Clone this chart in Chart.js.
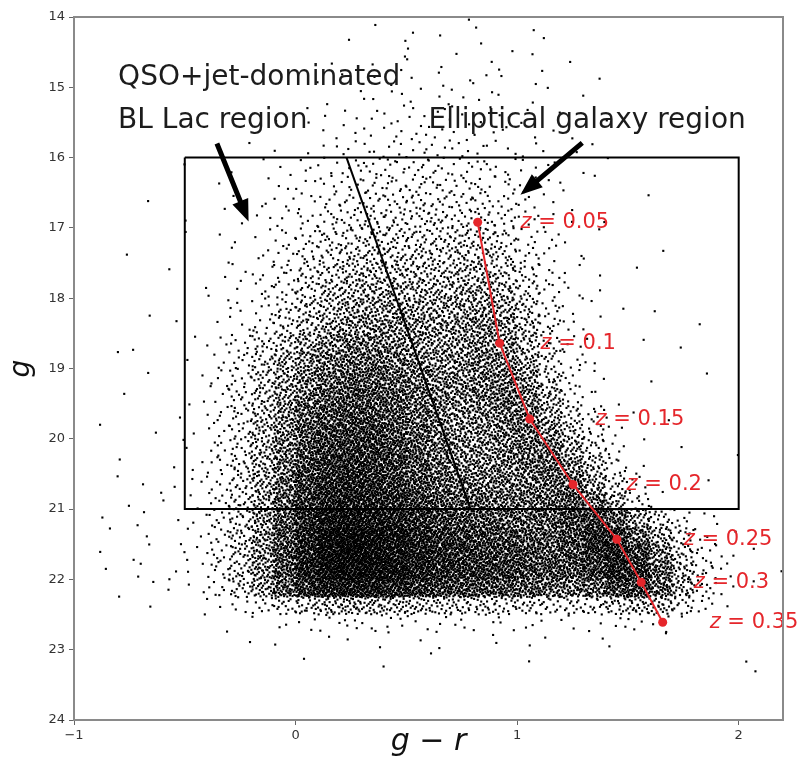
<!DOCTYPE html>
<html>
<head>
<meta charset="utf-8">
<script src="https://cdn.jsdelivr.net/npm/chart.js@4.4.1/dist/chart.umd.min.js"></script>
<style>
html,body{margin:0;padding:0;background:#fff;}
#wrap{width:807px;height:783px;position:relative;}
canvas{display:block;}
</style>
</head>
<body>
<div id="wrap"><canvas id="c" width="807" height="783"></canvas></div>
<script>
// ---------------- data ----------------
const xTicks = [-1, 0, 1, 2];
const yTicks = [14, 15, 16, 17, 18, 19, 20, 21, 22, 23, 24];

// density grid of the source cloud: counts per cell, cells 0.1 wide in g-r (from -1)
// and 0.25 tall in g (from 14)
const gridX0 = -1, gridDX = 0.1, gridY0 = 14, gridDY = 0.25;
const densityRows = [
[0,0,0,0,0,0,0,0,0,0,0,0,0,1,0,1,0,1,1,0,1,0,0,0,0,0,0,0,0,0,0,0],
[0,0,0,0,0,0,0,0,0,0,0,0,1,0,1,1,1,0,1,1,0,1,0,0,0,0,0,0,0,0,0,0],
[0,0,0,0,0,0,0,0,0,0,0,1,0,1,1,1,1,1,1,1,1,0,1,0,0,0,0,0,0,0,0,0],
[0,0,0,0,0,0,0,0,0,0,1,0,1,1,2,1,2,1,2,1,1,1,0,1,0,0,0,0,0,0,0,0],
[0,0,0,0,0,0,0,0,0,0,0,1,1,2,2,2,2,2,2,1,1,1,1,0,0,0,0,0,0,0,0,0],
[0,0,0,0,0,0,0,0,0,1,1,1,2,2,3,3,3,2,2,2,1,1,0,0,1,0,0,0,0,0,0,0],
[0,0,0,0,0,0,0,0,0,0,1,2,2,3,3,4,3,3,3,2,2,1,1,0,0,0,0,0,0,0,0,0],
[0,0,0,0,0,0,0,1,0,1,1,2,3,4,4,5,4,4,3,3,2,1,1,1,0,0,0,0,0,0,0,0],
[0,0,0,0,1,0,0,1,1,2,3,4,5,6,7,7,7,6,5,4,3,2,1,0,1,0,0,0,0,0,0,0],
[0,0,0,0,0,0,1,1,1,2,3,5,6,8,9,9,8,8,7,5,4,2,1,1,0,0,0,0,0,0,0,0],
[0,0,0,1,0,0,1,1,2,3,4,6,8,10,11,11,10,10,9,7,4,2,1,0,0,1,0,0,0,0,0,0],
[0,0,0,0,0,1,0,1,2,3,6,9,11,13,13,13,13,13,12,9,5,2,1,1,0,0,0,0,0,0,0,0],
[0,0,0,0,0,1,1,1,2,5,8,12,14,16,16,16,16,18,17,12,6,3,1,1,0,0,0,0,0,0,0,0],
[0,0,1,0,0,0,1,1,3,6,10,14,18,20,20,19,19,21,21,15,8,4,1,1,0,0,1,0,0,0,0,0],
[0,0,0,0,1,0,1,2,4,8,13,18,23,25,25,24,24,26,27,20,11,5,2,1,0,1,0,0,0,0,0,0],
[0,0,0,0,0,1,1,2,5,9,16,22,28,31,31,29,29,32,33,26,14,6,3,1,0,0,0,0,0,0,0,0],
[0,0,0,1,0,0,1,3,6,11,19,27,34,38,38,36,34,37,40,33,19,8,3,1,1,0,1,0,0,0,0,0],
[0,0,0,0,1,0,1,3,7,14,23,32,41,45,45,42,40,43,47,40,24,10,4,1,0,0,0,0,1,0,0,0],
[0,0,1,0,0,1,3,7,13,22,33,45,53,53,49,43,39,42,48,43,26,10,4,1,0,1,0,1,0,0,0,0],
[0,1,0,0,0,1,3,8,17,30,43,54,61,61,56,49,43,45,52,50,32,14,5,2,0,0,0,0,0,0,0,0],
[0,0,0,1,0,1,4,9,19,34,50,61,69,69,64,55,48,47,54,57,41,19,6,2,0,0,1,0,1,0,0,0],
[0,0,1,0,0,1,4,10,21,38,56,69,77,77,71,62,52,49,55,61,51,27,9,2,0,0,0,0,0,0,0,0],
[0,0,0,0,1,1,5,11,24,43,64,78,84,81,72,61,49,44,48,58,56,34,16,7,2,1,1,0,0,0,0,0],
[0,1,0,1,0,1,5,12,26,47,71,85,91,88,78,66,53,45,45,56,62,45,24,10,3,0,0,0,0,0,0,0],
[0,0,0,0,1,1,6,13,28,51,77,91,98,95,84,71,57,46,45,52,62,58,34,15,5,1,0,1,0,1,0,0],
[0,0,1,0,1,2,6,14,30,55,82,97,104,100,89,75,60,48,48,51,60,65,48,25,8,2,0,0,0,0,0,0],
[0,1,0,1,1,2,6,15,32,59,89,106,112,106,94,80,66,57,55,53,56,64,62,37,15,5,0,0,1,0,0,0],
[0,0,1,1,1,2,7,16,34,63,94,112,120,114,102,88,76,67,63,60,59,64,72,58,30,10,2,0,0,0,0,0],
[0,1,1,1,1,2,7,18,38,70,107,130,136,128,114,98,86,77,72,68,64,68,84,90,64,34,15,6,2,1,0,0],
[0,1,0,1,1,2,8,19,40,75,115,142,154,146,131,113,101,92,86,80,72,68,79,105,99,61,32,14,5,1,0,0],
[0,1,1,1,1,2,8,20,42,78,118,145,157,149,135,118,106,98,91,86,78,70,78,101,114,86,48,20,7,2,1,0],
[0,1,1,1,2,2,8,20,42,78,118,144,155,148,134,118,108,100,94,90,83,75,74,88,113,103,62,27,9,3,0,1],
[0,0,1,1,1,2,7,17,36,66,98,117,127,121,110,97,89,82,78,74,68,60,56,61,82,89,63,30,10,2,1,0],
[0,0,0,1,0,1,2,5,9,15,22,28,32,30,27,24,22,20,19,18,17,15,14,16,22,28,26,14,5,1,0,0],
[0,0,0,0,0,0,1,0,1,2,3,4,4,4,4,3,3,3,3,3,2,2,2,2,3,3,3,1,0,0,0,0],
[0,0,0,0,0,0,0,1,0,1,0,1,1,1,1,1,1,0,1,1,1,1,0,1,1,0,1,0,0,0,0,0],
[0,0,0,0,0,0,0,0,0,0,1,0,0,1,0,0,1,0,0,0,1,0,0,0,0,0,0,0,0,0,1,0],
[0,0,0,0,0,0,0,0,0,0,0,0,0,0,0,0,0,0,0,0,0,0,0,0,0,0,0,0,0,0,1,0],
[0,0,0,0,0,0,0,0,0,0,0,0,0,0,0,0,0,0,0,0,0,0,0,0,0,0,0,0,0,0,0,0],
[0,0,0,0,0,0,0,0,0,0,0,0,0,0,0,0,0,0,0,0,0,0,0,0,0,0,0,0,0,0,0,0]
];

// elliptical galaxy track
const trackZ  = [0.05, 0.1, 0.15, 0.2, 0.25, 0.3, 0.35];
const trackGR = [0.822, 0.921, 1.057, 1.252, 1.450, 1.560, 1.657];
const trackG  = [16.92, 18.64, 19.72, 20.65, 21.43, 22.04, 22.61];

// selection box and dividing line
const boxGR = [-0.5, 2.0, 2.0, -0.5, -0.5];
const boxG  = [16, 16, 21, 21, 16];
const divGR = [0.23, 0.79];
const divG  = [16, 21];

// ---------------- annotation layout (data coordinates) ----------------
const zLabelAt = [1.015, 1.106, 1.354, 1.494, 1.752, 1.797, 1.869];
const textNotes = [
  {text: 'QSO+jet-dominated', x: -0.801, y: 14.967},
  {text: 'BL Lac region', x: -0.801, y: 15.58},
  {text: 'Elliptical galaxy region', x: 0.60, y: 15.58}
];
const arrows = [
  {from: [-0.355, 15.80], to: [-0.212, 16.91]},
  {from: [1.294, 15.79], to: [1.015, 16.53]}
];

// ---------------- build scatter points from the density grid ----------------
// points are spread inside each cell on a leaped Halton low-discrepancy pattern
function halton(i, b) { let f = 1, r = 0; while (i > 0) { f /= b; r += f * (i % b); i = Math.floor(i / b); } return r; }
const LEAP = 409;
const cloud = [];
let k = 1;
densityRows.forEach((row, r) => {
  row.forEach((n, c) => {
    for (let i = 0; i < n; i++, k++) {
      const j = k * LEAP;
      cloud.push({x: gridX0 + (c + halton(j, 2)) * gridDX, y: gridY0 + (r + halton(j, 3)) * gridDY});
    }
  });
});

const RED = '#e5262b';
const FONT = "'DejaVu Sans', sans-serif";

const decor = {
  id: 'decor',
  afterDatasetsDraw(chart) {
    const {ctx, scales: {x, y}} = chart;
    ctx.save();
    ctx.fillStyle = '#1c1c1c';
    ctx.font = '28px ' + FONT;
    ctx.textBaseline = 'alphabetic';
    ctx.textAlign = 'left';
    textNotes.forEach(t => ctx.fillText(t.text, x.getPixelForValue(t.x), y.getPixelForValue(t.y)));
    ctx.fillStyle = '#000';
    arrows.forEach(ar => {
      const x1 = x.getPixelForValue(ar.from[0]), y1 = y.getPixelForValue(ar.from[1]);
      const x2 = x.getPixelForValue(ar.to[0]), y2 = y.getPixelForValue(ar.to[1]);
      const ang = Math.atan2(y2 - y1, x2 - x1), len = Math.hypot(x2 - x1, y2 - y1);
      const sw = 5, hl = 22, hw = 17;
      ctx.save();
      ctx.translate(x1, y1); ctx.rotate(ang);
      ctx.beginPath();
      ctx.moveTo(0, -sw / 2); ctx.lineTo(len - hl, -sw / 2); ctx.lineTo(len - hl, -hw / 2);
      ctx.lineTo(len, 0); ctx.lineTo(len - hl, hw / 2); ctx.lineTo(len - hl, sw / 2); ctx.lineTo(0, sw / 2);
      ctx.closePath(); ctx.fill();
      ctx.restore();
    });
    ctx.fillStyle = RED;
    ctx.textBaseline = 'middle';
    trackZ.forEach((z, i) => {
      let px = x.getPixelForValue(zLabelAt[i]);
      const py = y.getPixelForValue(trackG[i]);
      ctx.font = 'italic 21px ' + FONT;
      ctx.fillText('z', px, py);
      px += ctx.measureText('z').width;
      ctx.font = '21px ' + FONT;
      ctx.fillText(' = ' + z, px, py);
    });
    ctx.restore();
  },
  afterDraw(chart) {
    const {ctx, chartArea: a} = chart;
    ctx.save();
    ctx.strokeStyle = '#8a8a8a';
    ctx.lineWidth = 2;
    ctx.beginPath();
    ctx.moveTo(a.left, a.top); ctx.lineTo(a.right, a.top); ctx.lineTo(a.right, a.bottom);
    ctx.stroke();
    ctx.restore();
  }
};

new Chart(document.getElementById('c'), {
  type: 'scatter',
  data: {
    datasets: [
      {
        label: 'track',
        data: trackGR.map((v, i) => ({x: v, y: trackG[i]})),
        showLine: true,
        borderColor: RED,
        backgroundColor: RED,
        borderWidth: 2,
        pointRadius: 4.5,
        pointBorderWidth: 0,
        order: 1
      },
      {
        label: 'divide',
        data: divGR.map((v, i) => ({x: v, y: divG[i]})),
        showLine: true,
        borderColor: '#000',
        borderWidth: 2,
        pointRadius: 0,
        order: 2
      },
      {
        label: 'box',
        data: boxGR.map((v, i) => ({x: v, y: boxG[i]})),
        showLine: true,
        borderColor: '#000',
        borderWidth: 2,
        pointRadius: 0,
        order: 3
      },
      {
        label: 'sources',
        data: cloud,
        showLine: false,
        pointStyle: 'rect',
        pointRadius: 1.5,
        pointBorderWidth: 0,
        backgroundColor: '#000',
        order: 4
      }
    ]
  },
  options: {
    responsive: false,
    animation: false,
    devicePixelRatio: 1,
    events: [],
    parsing: false,
    normalized: true,
    layout: {padding: {left: 0, right: 24, top: 17, bottom: 0}},
    plugins: {legend: {display: false}, tooltip: {enabled: false}},
    scales: {
      x: {
        type: 'linear', min: -1, max: 2.2,
        afterBuildTicks: s => { s.ticks = xTicks.map(v => ({value: v})); },
        afterFit: s => { s.height = 63; },
        grid: {display: true, drawOnChartArea: false, drawTicks: true, tickLength: 5, color: '#666', lineWidth: 1},
        border: {display: true, color: '#8a8a8a', width: 2},
        ticks: {font: {family: FONT, size: 13}, color: '#333', padding: 3,
                callback: v => (v < 0 ? '\u2212' + Math.abs(v) : String(v))},
        title: {display: true, text: 'g \u2212 r', font: {family: FONT, size: 30, style: 'italic', lineHeight: 1},
                color: '#111', padding: {top: 0, bottom: 26}}
      },
      y: {
        type: 'linear', min: 14, max: 24, reverse: true,
        afterBuildTicks: s => { s.ticks = yTicks.map(v => ({value: v})); },
        afterFit: s => { s.width = 74; },
        grid: {display: true, drawOnChartArea: false, drawTicks: true, tickLength: 5, color: '#666', lineWidth: 1},
        border: {display: true, color: '#8a8a8a', width: 2},
        ticks: {font: {family: FONT, size: 13}, color: '#333', padding: 4},
        title: {display: true, text: 'g', font: {family: FONT, size: 28, style: 'italic', lineHeight: 1},
                color: '#111', padding: {top: 8, bottom: 0}}
      }
    }
  },
  plugins: [decor]
});
</script>
</body>
</html>
